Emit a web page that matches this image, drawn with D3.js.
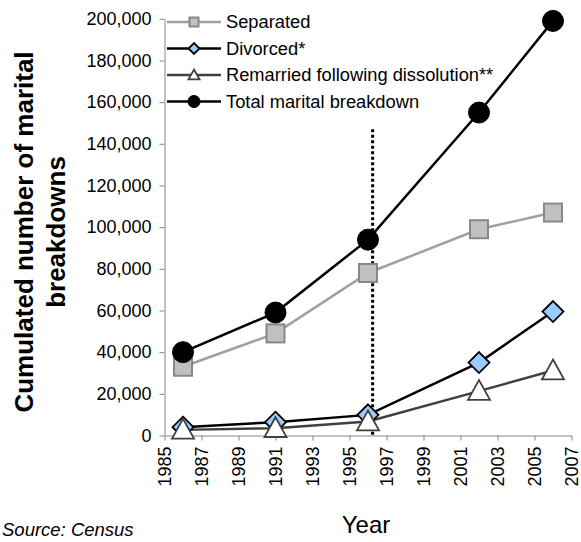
<!DOCTYPE html>
<html><head><meta charset="utf-8">
<script src="https://cdn.jsdelivr.net/npm/d3@7"></script>
<style>
body{margin:0;background:#fff;}
svg{display:block;font-family:Arial,"Liberation Sans",sans-serif;}
</style></head>
<body>
<svg id="c" width="581" height="542"></svg>
<script>
const years = [1986, 1991, 1996, 2002, 2006];
const separated = [33000, 49000, 78000, 99000, 107000];
const divorced = [4000, 6400, 9900, 35000, 59500];
const remarried = [2700, 3500, 6700, 21300, 31200];
const total = [40000, 59000, 94000, 155000, 199000];
const seriesNames = ["Separated", "Divorced*", "Remarried following dissolution**", "Total marital breakdown"];
const xTicks = [1985, 1987, 1989, 1991, 1993, 1995, 1997, 1999, 2001, 2003, 2005, 2007];
const yTicks = [0, 20000, 40000, 60000, 80000, 100000, 120000, 140000, 160000, 180000, 200000];
const markerYear = 1996.25;
const markerTop = 147000;

const svg = d3.select("#c");
const x = d3.scaleLinear().domain([1985, 2007]).range([164.5, 571.5]);
const y = d3.scaleLinear().domain([0, 200000]).range([435.5, 18.8]);
const fmt = d3.format(",");

// axes
const yAxis = svg.append("g").attr("transform", "translate(164.5,0)")
  .call(d3.axisLeft(y).tickValues(yTicks).tickFormat(fmt).tickSize(5).tickSizeOuter(0).tickPadding(8));
yAxis.selectAll("path,line").attr("stroke", "#868686");
yAxis.selectAll("text").attr("font-size", 18).attr("fill", "#000").attr("font-family", "Arial, 'Liberation Sans', sans-serif");

const xAxis = svg.append("g").attr("transform", "translate(0,435.5)")
  .call(d3.axisBottom(x).tickValues(xTicks).tickFormat(d3.format("d")).tickSize(5).tickSizeOuter(0));
xAxis.selectAll("path,line").attr("stroke", "#868686");
xAxis.selectAll("text").attr("font-size", 18).attr("fill", "#000")
  .attr("font-family", "Arial, 'Liberation Sans', sans-serif")
  .attr("transform", "rotate(-90)").attr("text-anchor", "end")
  .attr("x", -11).attr("y", 0).attr("dy", "0.35em");

// dotted vertical line
svg.append("line").attr("x1", x(markerYear)).attr("x2", x(markerYear))
  .attr("y1", y(markerTop)).attr("y2", y(0))
  .attr("stroke", "#000").attr("stroke-width", 3).attr("stroke-dasharray", "3,2.5");

const line = d3.line().x((d, i) => x(years[i])).y(d => y(d));

const styles = [
  {data: separated, stroke: "#a0a0a0", marker: "square", fill: "#c0c0c0", mstroke: "#888888", size: 18, lsize: 9},
  {data: divorced, stroke: "#000", marker: "diamond", fill: "#99ccff", mstroke: "#000", size: 21, lsize: 11},
  {data: remarried, stroke: "#404040", marker: "triangle", fill: "#fff", mstroke: "#404040", size: 22, lsize: 11},
  {data: total, stroke: "#000", marker: "circle", fill: "#000", mstroke: "#000", size: 21, lsize: 12}
];

function drawMarker(g, type, cx, cy, s, fill, stroke) {
  const h = s / 2;
  if (type === "square") {
    g.append("rect").attr("x", cx - h).attr("y", cy - h).attr("width", s).attr("height", s)
      .attr("fill", fill).attr("stroke", stroke).attr("stroke-width", 2);
  } else if (type === "diamond") {
    g.append("path").attr("d", `M${cx},${cy - h}L${cx + h},${cy}L${cx},${cy + h}L${cx - h},${cy}Z`)
      .attr("fill", fill).attr("stroke", stroke).attr("stroke-width", 1.8);
  } else if (type === "triangle") {
    g.append("path").attr("d", `M${cx},${cy - h}L${cx + h},${cy + h * 0.8}L${cx - h},${cy + h * 0.8}Z`)
      .attr("fill", fill).attr("stroke", stroke).attr("stroke-width", 1.8);
  } else {
    g.append("circle").attr("cx", cx).attr("cy", cy).attr("r", h).attr("fill", fill).attr("stroke", stroke);
  }
}

styles.forEach(s => {
  svg.append("path").datum(s.data).attr("d", line).attr("fill", "none")
    .attr("stroke", s.stroke).attr("stroke-width", 2.5);
});
styles.forEach(s => {
  const g = svg.append("g");
  s.data.forEach((v, i) => drawMarker(g, s.marker, x(years[i]), y(v), s.size, s.fill, s.mstroke));
});

// legend
const legY = [22, 48.5, 75, 101.5];
styles.forEach((s, i) => {
  const g = svg.append("g");
  g.append("line").attr("x1", 167).attr("x2", 221).attr("y1", legY[i]).attr("y2", legY[i])
    .attr("stroke", s.stroke).attr("stroke-width", 2.5);
  drawMarker(g, s.marker, 194, legY[i], s.lsize, s.fill, s.mstroke);
  g.append("text").attr("x", 226).attr("y", legY[i]).attr("dy", "0.35em")
    .attr("font-size", 18.3).text(seriesNames[i]);
});

// axis titles
const yt = svg.append("text").attr("transform", "translate(33,232) rotate(-90)")
  .attr("text-anchor", "middle").attr("font-size", 26).attr("font-weight", "bold");
yt.append("tspan").attr("x", 0).attr("y", 0).text("Cumulated number of marital");
yt.append("tspan").attr("x", 0).attr("y", 32).text("breakdowns");

svg.append("text").attr("x", 366).attr("y", 533).attr("text-anchor", "middle")
  .attr("font-size", 24).text("Year");
svg.append("text").attr("x", 2).attr("y", 536).attr("font-size", 18.5)
  .attr("font-style", "italic").text("Source: Census");
</script>
</body></html>
